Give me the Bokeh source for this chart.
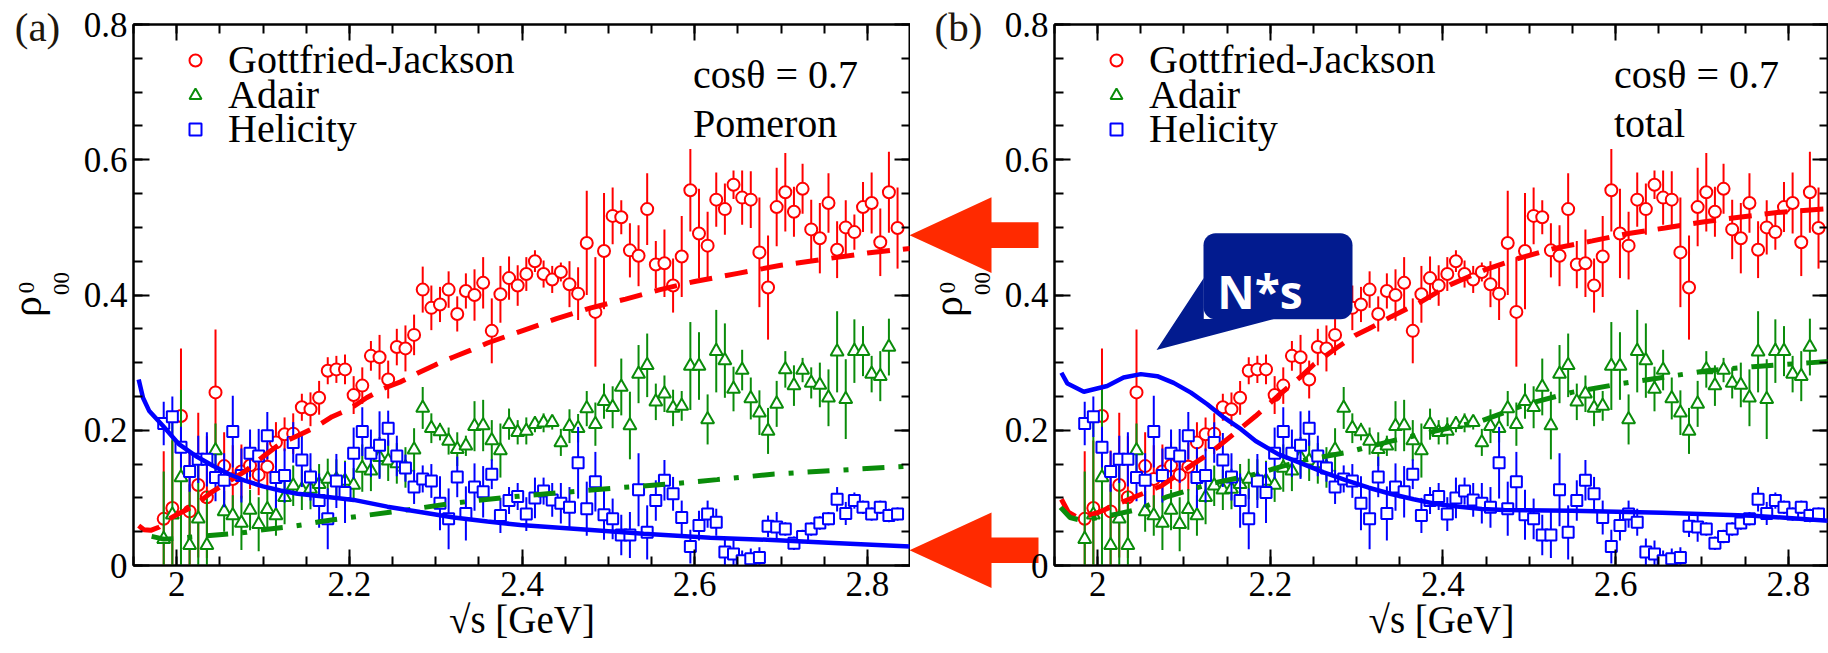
import numpy as np
from bokeh.plotting import figure
from bokeh.models import (Range1d, LinearAxis, SingleIntervalTicker, Legend, LegendItem,
                          Label, PolyAnnotation, BoxAnnotation, CustomJSTickFormatter)
from bokeh.core.properties import value
from bokeh.layouts import row
from bokeh.embed import file_html
from bokeh.resources import INLINE

# ---------------- data ----------------
SQRT_S = [1.985, 1.995, 2.005, 2.015, 2.025, 2.035, 2.045, 2.055, 2.065, 2.075,
          2.085, 2.095, 2.105, 2.115, 2.125, 2.135, 2.145, 2.155, 2.165, 2.175,
          2.185, 2.195, 2.205, 2.215, 2.225, 2.235, 2.245, 2.255, 2.265, 2.275,
          2.285, 2.295, 2.305, 2.315, 2.325, 2.335, 2.345, 2.355, 2.365, 2.375,
          2.385, 2.395, 2.405, 2.415, 2.425, 2.435, 2.445, 2.455, 2.465, 2.475,
          2.485, 2.495, 2.505, 2.515, 2.525, 2.535, 2.545, 2.555, 2.565, 2.575,
          2.585, 2.595, 2.605, 2.615, 2.625, 2.635, 2.645, 2.655, 2.665, 2.675,
          2.685, 2.695, 2.705, 2.715, 2.725, 2.735, 2.745, 2.755, 2.765, 2.775,
          2.785, 2.795, 2.805, 2.815, 2.825, 2.835]

GJ = [0.069, 0.085, 0.221, 0.080, 0.119, 0.101, 0.256, 0.147, 0.128, 0.139,
      0.148, 0.134, 0.146, 0.182, 0.194, 0.195, 0.234, 0.231, 0.248, 0.288,
      0.290, 0.290, 0.252, 0.266, 0.310, 0.308, 0.275, 0.323, 0.321, 0.341,
      0.408, 0.381, 0.386, 0.408, 0.372, 0.406, 0.400, 0.418, 0.347, 0.401,
      0.425, 0.414, 0.431, 0.450, 0.431, 0.423, 0.434, 0.416, 0.402, 0.477,
      0.375, 0.465, 0.517, 0.515, 0.466, 0.458, 0.527, 0.445, 0.447, 0.414,
      0.457, 0.555, 0.491, 0.473, 0.541, 0.527, 0.563, 0.544, 0.541, 0.463,
      0.411, 0.530, 0.552, 0.523, 0.557, 0.497, 0.484, 0.536, 0.467, 0.500,
      0.493, 0.530, 0.536, 0.478, 0.552, 0.499]
GJ_ERR = [0.100, 0.100, 0.100, 0.090, 0.107, 0.090, 0.093, 0.050, 0.050, 0.040,
          0.035, 0.030, 0.035, 0.030, 0.025, 0.030, 0.020, 0.025, 0.025, 0.020,
          0.020, 0.022, 0.028, 0.027, 0.022, 0.033, 0.028, 0.027, 0.034, 0.030,
          0.034, 0.033, 0.026, 0.027, 0.026, 0.026, 0.038, 0.038, 0.048, 0.042,
          0.032, 0.030, 0.025, 0.016, 0.020, 0.020, 0.014, 0.034, 0.039, 0.077,
          0.081, 0.086, 0.042, 0.025, 0.040, 0.045, 0.053, 0.035, 0.050, 0.040,
          0.060, 0.061, 0.066, 0.050, 0.040, 0.038, 0.021, 0.040, 0.042, 0.081,
          0.077, 0.058, 0.058, 0.037, 0.037, 0.044, 0.052, 0.044, 0.042, 0.040,
          0.026, 0.037, 0.045, 0.050, 0.060, 0.060]

ADAIR_S = SQRT_S[:85]
ADAIR = [0.039, 0.075, 0.130, 0.030, 0.069, 0.030, 0.170, 0.080, 0.074, 0.063,
         0.082, 0.061, 0.083, 0.074, 0.101, 0.118, 0.112, 0.113, 0.120, 0.128,
         0.127, 0.125, 0.119, 0.144, 0.140, 0.160, 0.155, 0.151, 0.145, 0.171,
         0.233, 0.203, 0.198, 0.184, 0.172, 0.177, 0.206, 0.207, 0.185, 0.170,
         0.209, 0.197, 0.199, 0.209, 0.211, 0.212, 0.182, 0.206, 0.203, 0.232,
         0.209, 0.243, 0.234, 0.264, 0.207, 0.283, 0.296, 0.242, 0.254, 0.233,
         0.236, 0.295, 0.295, 0.216, 0.317, 0.303, 0.261, 0.289, 0.247, 0.226,
         0.199, 0.239, 0.290, 0.266, 0.289, 0.270, 0.267, 0.248, 0.316, 0.246,
         0.317, 0.317, 0.283, 0.280, 0.323]
ADAIR_ERR = [0.100, 0.150, 0.130, 0.090, 0.080, 0.080, 0.040, 0.030, 0.030, 0.040,
             0.030, 0.040, 0.030, 0.030, 0.040, 0.030, 0.030, 0.030, 0.030, 0.030,
             0.030, 0.030, 0.025, 0.035, 0.030, 0.030, 0.030, 0.030, 0.030, 0.032,
             0.031, 0.022, 0.013, 0.020, 0.025, 0.015, 0.037, 0.038, 0.030, 0.040,
             0.023, 0.018, 0.020, 0.012, 0.014, 0.011, 0.020, 0.025, 0.021, 0.026,
             0.032, 0.026, 0.031, 0.042, 0.050, 0.043, 0.047, 0.027, 0.027, 0.027,
             0.022, 0.065, 0.050, 0.037, 0.061, 0.055, 0.033, 0.030, 0.031, 0.033,
             0.034, 0.034, 0.027, 0.030, 0.018, 0.023, 0.033, 0.042, 0.060, 0.059,
             0.047, 0.037, 0.027, 0.037, 0.042]

HEL = [0.210, 0.220, 0.175, 0.139, 0.157, 0.157, 0.130, 0.126, 0.198, 0.133,
       0.166, 0.162, 0.192, 0.130, 0.133, 0.182, 0.156, 0.131, 0.096, 0.069,
       0.125, 0.108, 0.166, 0.198, 0.166, 0.178, 0.203, 0.162, 0.144, 0.116,
       0.128, 0.125, 0.092, 0.069, 0.131, 0.077, 0.116, 0.109, 0.135, 0.074,
       0.096, 0.102, 0.076, 0.100, 0.110, 0.097, 0.092, 0.086, 0.152, 0.084,
       0.124, 0.075, 0.069, 0.045, 0.045, 0.112, 0.049, 0.096, 0.126, 0.106,
       0.071, 0.028, 0.059, 0.076, 0.064, 0.020, 0.017, 0.007, 0.010, 0.012,
       0.058, 0.057, 0.054, 0.033, 0.043, 0.054, 0.063, 0.069, 0.098, 0.077,
       0.096, 0.086, 0.076, 0.086, 0.074, 0.076]
HEL_ERR = [0.032, 0.030, 0.030, 0.030, 0.035, 0.040, 0.035, 0.040, 0.053, 0.040,
           0.035, 0.040, 0.035, 0.045, 0.040, 0.030, 0.040, 0.035, 0.040, 0.045,
           0.040, 0.045, 0.038, 0.036, 0.035, 0.050, 0.026, 0.030, 0.020, 0.025,
           0.020, 0.025, 0.040, 0.045, 0.030, 0.040, 0.035, 0.038, 0.022, 0.026,
           0.020, 0.020, 0.025, 0.030, 0.020, 0.025, 0.030, 0.030, 0.053, 0.040,
           0.044, 0.037, 0.030, 0.030, 0.034, 0.054, 0.040, 0.030, 0.030, 0.025,
           0.025, 0.025, 0.022, 0.020, 0.020, 0.020, 0.020, 0.015, 0.015, 0.015,
           0.016, 0.022, 0.010, 0.010, 0.010, 0.010, 0.010, 0.010, 0.018, 0.017,
           0.012, 0.010, 0.010, 0.010, 0.010, 0.010]

# model curves, panel (a): Pomeron only
POM_GJ_X = [1.956, 1.962, 1.970, 1.980, 1.990, 2.000, 2.020, 2.040, 2.060, 2.080,
            2.100, 2.120, 2.140, 2.160, 2.180, 2.200, 2.220, 2.240, 2.260, 2.280,
            2.300, 2.320, 2.340, 2.360, 2.380, 2.400, 2.440, 2.480, 2.520, 2.560,
            2.600, 2.650, 2.700, 2.750, 2.800, 2.850]
POM_GJ_Y = [0.059, 0.053, 0.052, 0.057, 0.068, 0.075, 0.088, 0.108, 0.124, 0.140,
            0.161, 0.180, 0.192, 0.204, 0.220, 0.231, 0.248, 0.262, 0.272, 0.285,
            0.297, 0.308, 0.318, 0.329, 0.338, 0.347, 0.365, 0.381, 0.394, 0.408,
            0.420, 0.432, 0.444, 0.453, 0.462, 0.469]
POM_AD_X = [1.971, 1.985, 2.000, 2.016, 2.035, 2.062, 2.081, 2.100, 2.126, 2.145,
            2.167, 2.200, 2.255, 2.319, 2.383, 2.447, 2.512, 2.576, 2.626, 2.690,
            2.756, 2.822, 2.850]
POM_AD_Y = [0.043, 0.039, 0.040, 0.042, 0.044, 0.047, 0.049, 0.053, 0.0565, 0.060,
            0.065, 0.071, 0.080, 0.092, 0.101, 0.108, 0.115, 0.121, 0.127, 0.135,
            0.140, 0.145, 0.147]
POM_HE_X = [1.956, 1.961, 1.968, 1.984, 2.003, 2.022, 2.042, 2.061, 2.080, 2.100,
            2.120, 2.140, 2.170, 2.205, 2.244, 2.282, 2.321, 2.360, 2.398, 2.464,
            2.541, 2.618, 2.684, 2.761, 2.850]
POM_HE_Y = [0.275, 0.248, 0.229, 0.2065, 0.179, 0.162, 0.1475, 0.135, 0.125, 0.117,
            0.111, 0.106, 0.102, 0.097, 0.087, 0.079, 0.071, 0.065, 0.060, 0.054,
            0.047, 0.041, 0.038, 0.0334, 0.028]

# model curves, panel (b): total
TOT_GJ_X = [1.958, 1.966, 1.975, 1.985, 2.000, 2.027, 2.074, 2.105, 2.131, 2.162,
            2.183, 2.209, 2.236, 2.251, 2.277, 2.298, 2.314, 2.340, 2.372, 2.408,
            2.450, 2.487, 2.529, 2.573, 2.615, 2.657, 2.701, 2.743, 2.787, 2.829,
            2.850]
TOT_GJ_Y = [0.098, 0.079, 0.072, 0.073, 0.078, 0.093, 0.118, 0.145, 0.167, 0.199,
            0.221, 0.251, 0.280, 0.298, 0.322, 0.340, 0.350, 0.368, 0.388, 0.415,
            0.438, 0.454, 0.469, 0.480, 0.491, 0.499, 0.508, 0.515, 0.522, 0.526,
            0.528]
TOT_AD_X = [1.957, 1.968, 1.980, 1.997, 2.022, 2.050, 2.079, 2.131, 2.183, 2.236,
            2.288, 2.340, 2.392, 2.445, 2.497, 2.549, 2.602, 2.654, 2.706, 2.759,
            2.827, 2.850]
TOT_AD_Y = [0.086, 0.071, 0.067, 0.070, 0.076, 0.084, 0.101, 0.121, 0.135, 0.155,
            0.167, 0.184, 0.199, 0.214, 0.2385, 0.256, 0.268, 0.278, 0.288, 0.294,
            0.300, 0.302]
TOT_HE_X = [1.958, 1.965, 1.984, 2.011, 2.030, 2.050, 2.069, 2.088, 2.108, 2.127,
            2.146, 2.166, 2.183, 2.209, 2.236, 2.262, 2.288, 2.314, 2.340, 2.366,
            2.392, 2.419, 2.445, 2.471, 2.549, 2.654, 2.759, 2.850]
TOT_HE_Y = [0.285, 0.269, 0.257, 0.2655, 0.278, 0.283, 0.280, 0.270, 0.2556, 0.2385,
            0.219, 0.2016, 0.184, 0.1647, 0.151, 0.1377, 0.126, 0.115, 0.1057, 0.098,
            0.091, 0.087, 0.0836, 0.082, 0.081, 0.078, 0.0737, 0.066]

SERIES_NAMES = ["Gottfried-Jackson", "Adair", "Helicity"]
PANEL_TAGS = ["(a)", "(b)"]
PANEL_NOTES = ["Pomeron", "total"]
ARROW_TIPS = [0.49, 0.024]   # values marked by the arrows between the panels

RED, GREEN, BLUE = "#ff0000", "#0a8c0a", "#0000ff"
SERIF = "Liberation Serif"

# ---------------- geometry (page pixels) ----------------
FRAME_H = 541
FRAME_TOP = 24
LEFT_A, LEFT_B = 133, 1054
PX_PER_X = 863.3
PX_PER_Y = FRAME_H / 0.8
PAGE_W, PAGE_H = 1828, 653
LEGEND_ROW_CENTERS = [35.5, 70.0, 104.5]   # px below frame top
LEGEND_ROW_H = 47.5
OV_LIFT = 40            # overlay is pulled up by this many px (negative top margin)
OV_FIX = 23 - OV_LIFT   # resulting offset of the overlay canvas top

TICK_FMT = "return (Math.round(tick*10)/10).toString();"


def make_panel(note, curves, x_end, frame_w, min_left):
    p = figure(output_backend="svg", toolbar_location=None, title=None,
               x_range=Range1d(1.95, x_end), y_range=Range1d(0.0, 0.8),
               frame_width=frame_w, frame_height=FRAME_H,
               min_border_left=min_left, min_border_right=0,
               min_border_top=FRAME_TOP, min_border_bottom=PAGE_H - FRAME_TOP - FRAME_H,
               background_fill_color="white", border_fill_alpha=0.0, align="start")
    p.grid.visible = False
    p.outline_line_color = "black"
    p.outline_line_width = 2

    bottom = p.below[0]
    left = p.left[0]
    xt = SingleIntervalTicker(interval=0.2, num_minor_ticks=4)
    yt = SingleIntervalTicker(interval=0.2, num_minor_ticks=4)
    bottom.ticker = xt
    left.ticker = yt
    top = LinearAxis(ticker=xt)
    right = LinearAxis(ticker=yt)
    p.add_layout(top, "above")
    p.add_layout(right, "right")
    for ax in (bottom, left, top, right):
        ax.major_tick_in = 16
        ax.major_tick_out = 0
        ax.minor_tick_in = 9
        ax.minor_tick_out = 0
        ax.major_tick_line_width = 2
        ax.minor_tick_line_width = 2
        ax.major_tick_line_color = "black"
        ax.minor_tick_line_color = "black"
        ax.axis_line_width = 2
        ax.axis_line_color = "black"
        ax.major_label_text_font = SERIF
        ax.major_label_text_color = "black"
    for ax in (top, right):
        ax.formatter = CustomJSTickFormatter(code="return '';")
        ax.major_label_text_font_size = "1px"
        ax.major_label_standoff = 0
    for ax in (bottom, left):
        ax.formatter = CustomJSTickFormatter(code=TICK_FMT)
        ax.major_label_text_font_size = "35px"
    bottom.major_label_standoff = 6
    left.major_label_standoff = 6
    bottom.axis_label = "√s [GeV]"
    bottom.axis_label_text_font = SERIF
    bottom.axis_label_text_font_size = "39px"
    bottom.axis_label_text_font_style = "normal"
    bottom.axis_label_text_color = "black"
    bottom.axis_label_standoff = -1

    renderers = []
    for sx, vals, errs, color, marker, size in (
            (SQRT_S, GJ, GJ_ERR, RED, "circle", 12),
            (ADAIR_S, ADAIR, ADAIR_ERR, GREEN, "triangle", 13),
            (SQRT_S, HEL, HEL_ERR, BLUE, "square", 11)):
        v = np.array(vals)
        e = np.array(errs)
        p.segment(x0=sx, y0=v - e, x1=sx, y1=v + e, line_color=color, line_width=2)
        r = p.scatter(x=sx, y=vals, marker=marker, size=size, line_color=color,
                      line_width=2, fill_color="white")
        renderers.append(r)

    (gx, gy), (ax_, ay), (hx, hy) = curves
    p.line(gx, gy, line_color=RED, line_width=5, line_dash="23 13")
    p.line(ax_, ay, line_color=GREEN, line_width=5, line_dash="22 14 5 14")
    p.line(hx, hy, line_color=BLUE, line_width=4.5)

    # one legend per entry so that the row pitch matches the original
    for name, r, c in zip(SERIES_NAMES, renderers, LEGEND_ROW_CENTERS):
        lg = Legend(items=[LegendItem(label=name, renderers=[r])],
                    location=(47, round(FRAME_H - c - LEGEND_ROW_H / 2)),
                    background_fill_alpha=0, border_line_alpha=0,
                    label_text_font=SERIF, label_text_font_size="40px",
                    label_text_color="black",
                    glyph_width=30, glyph_height=30, label_standoff=18,
                    padding=0, spacing=0, margin=0)
        p.add_layout(lg)

    p.add_layout(Label(x=2.598, y=0.726, text="cosθ = 0.7", text_font=SERIF,
                       text_font_size="40px", text_baseline="alphabetic",
                       text_color="black"))
    p.add_layout(Label(x=2.598, y=0.6536, text=note, text_font=SERIF,
                       text_font_size="40px", text_baseline="alphabetic",
                       text_color="black"))
    return p


pa = make_panel(PANEL_NOTES[0],
                [(POM_GJ_X, POM_GJ_Y), (POM_AD_X, POM_AD_Y), (POM_HE_X, POM_HE_Y)],
                2.85, 777, LEFT_A)
wb = PAGE_W - LEFT_B
pb = make_panel(PANEL_NOTES[1],
                [(TOT_GJ_X, TOT_GJ_Y), (TOT_AD_X, TOT_AD_Y), (TOT_HE_X, TOT_HE_Y)],
                1.95 + wb / PX_PER_X, wb, LEFT_B - (LEFT_A + 777))

# N*s callout (inside panel b)
NAVY = "#021b8f"
pb.add_layout(BoxAnnotation(left=2.1226, right=2.2952, bottom=0.3643, top=0.4912,
                            fill_color=NAVY, fill_alpha=1.0, line_color=None,
                            border_radius=12))
pb.add_layout(PolyAnnotation(xs=[2.1229, 2.0682, 2.204, 2.1229],
                             ys=[0.4252, 0.3186, 0.3645, 0.3645],
                             fill_color=NAVY, fill_alpha=1.0, line_color=None))
pb.add_layout(Label(x=2.1385, y=0.4056, text="N*s", text_font="Open Sans",
                    text_font_style="bold", text_font_size="46px",
                    text_color="white", text_baseline="alphabetic"))

# ---------------- transparent overlay behind both panels ----------------
# it uses the x/y scale of panel (a), extended over the whole page
x0_ov = 1.95 - LEFT_A / PX_PER_X
x1_ov = 1.95 + (PAGE_W - LEFT_A) / PX_PER_X
y_top_ov = (FRAME_TOP + FRAME_H - OV_FIX) / PX_PER_Y
y_bot_ov = y_top_ov - PAGE_H / PX_PER_Y
ov = figure(output_backend="svg", toolbar_location=None, title=None,
            frame_width=PAGE_W, frame_height=PAGE_H, min_border=0,
            x_range=Range1d(x0_ov, x1_ov), y_range=Range1d(y_bot_ov, y_top_ov),
            x_axis_location=None, y_axis_location=None,
            outline_line_color=None, background_fill_alpha=0.0, border_fill_alpha=0.0,
            margin=(-OV_LIFT, -PAGE_W, 0, 0), align="start")
ov.grid.visible = False


def xpos(page_px):
    return 1.95 + (page_px - LEFT_A) / PX_PER_X


def ypos(page_py):
    return (FRAME_TOP + FRAME_H - page_py) / PX_PER_Y


# big arrows pointing at the right edge of panel (a)
ARROW_RED = "#ff2a00"
xt_, xh_, xe_ = xpos(909), xpos(991), xpos(1038)
hh, bh = 37.8 / PX_PER_Y, 12.8 / PX_PER_Y
for yv in ARROW_TIPS:
    ov.patch([xt_, xh_, xh_, xe_, xe_, xh_, xh_],
             [yv, yv + hh, yv + bh, yv + bh, yv - bh, yv - bh, yv - hh],
             fill_color=ARROW_RED, line_color=None)

# panel tags and y-axis titles  rho^0_00  (positioned by their centres)
for tag, fl in zip(PANEL_TAGS, (LEFT_A, LEFT_B)):
    ov.text(x=[xpos(fl - 96)], y=[ypos(25)], text=[tag],
            text_font=value(SERIF), text_font_size="41px",
            text_baseline="middle", text_align="center", text_color="#1e160c")
    ov.text(x=[xpos(fl - 107)], y=[ypos(305)], text=["ρ"], angle=np.pi / 2,
            text_font=value(SERIF), text_font_size="42px",
            text_baseline="middle", text_align="center", text_color="black")
    ov.text(x=[xpos(fl - 107)], y=[ypos(286)], text=["0"], angle=np.pi / 2,
            text_font=value(SERIF), text_font_size="23px",
            text_baseline="middle", text_align="center", text_color="black")
    ov.text(x=[xpos(fl - 72)], y=[ypos(282)], text=["00"], angle=np.pi / 2,
            text_font=value(SERIF), text_font_size="23px",
            text_baseline="middle", text_align="center", text_color="black")

layout = row(ov, pa, pb, align="start")
open("out.html", "w").write(file_html(layout, INLINE))
